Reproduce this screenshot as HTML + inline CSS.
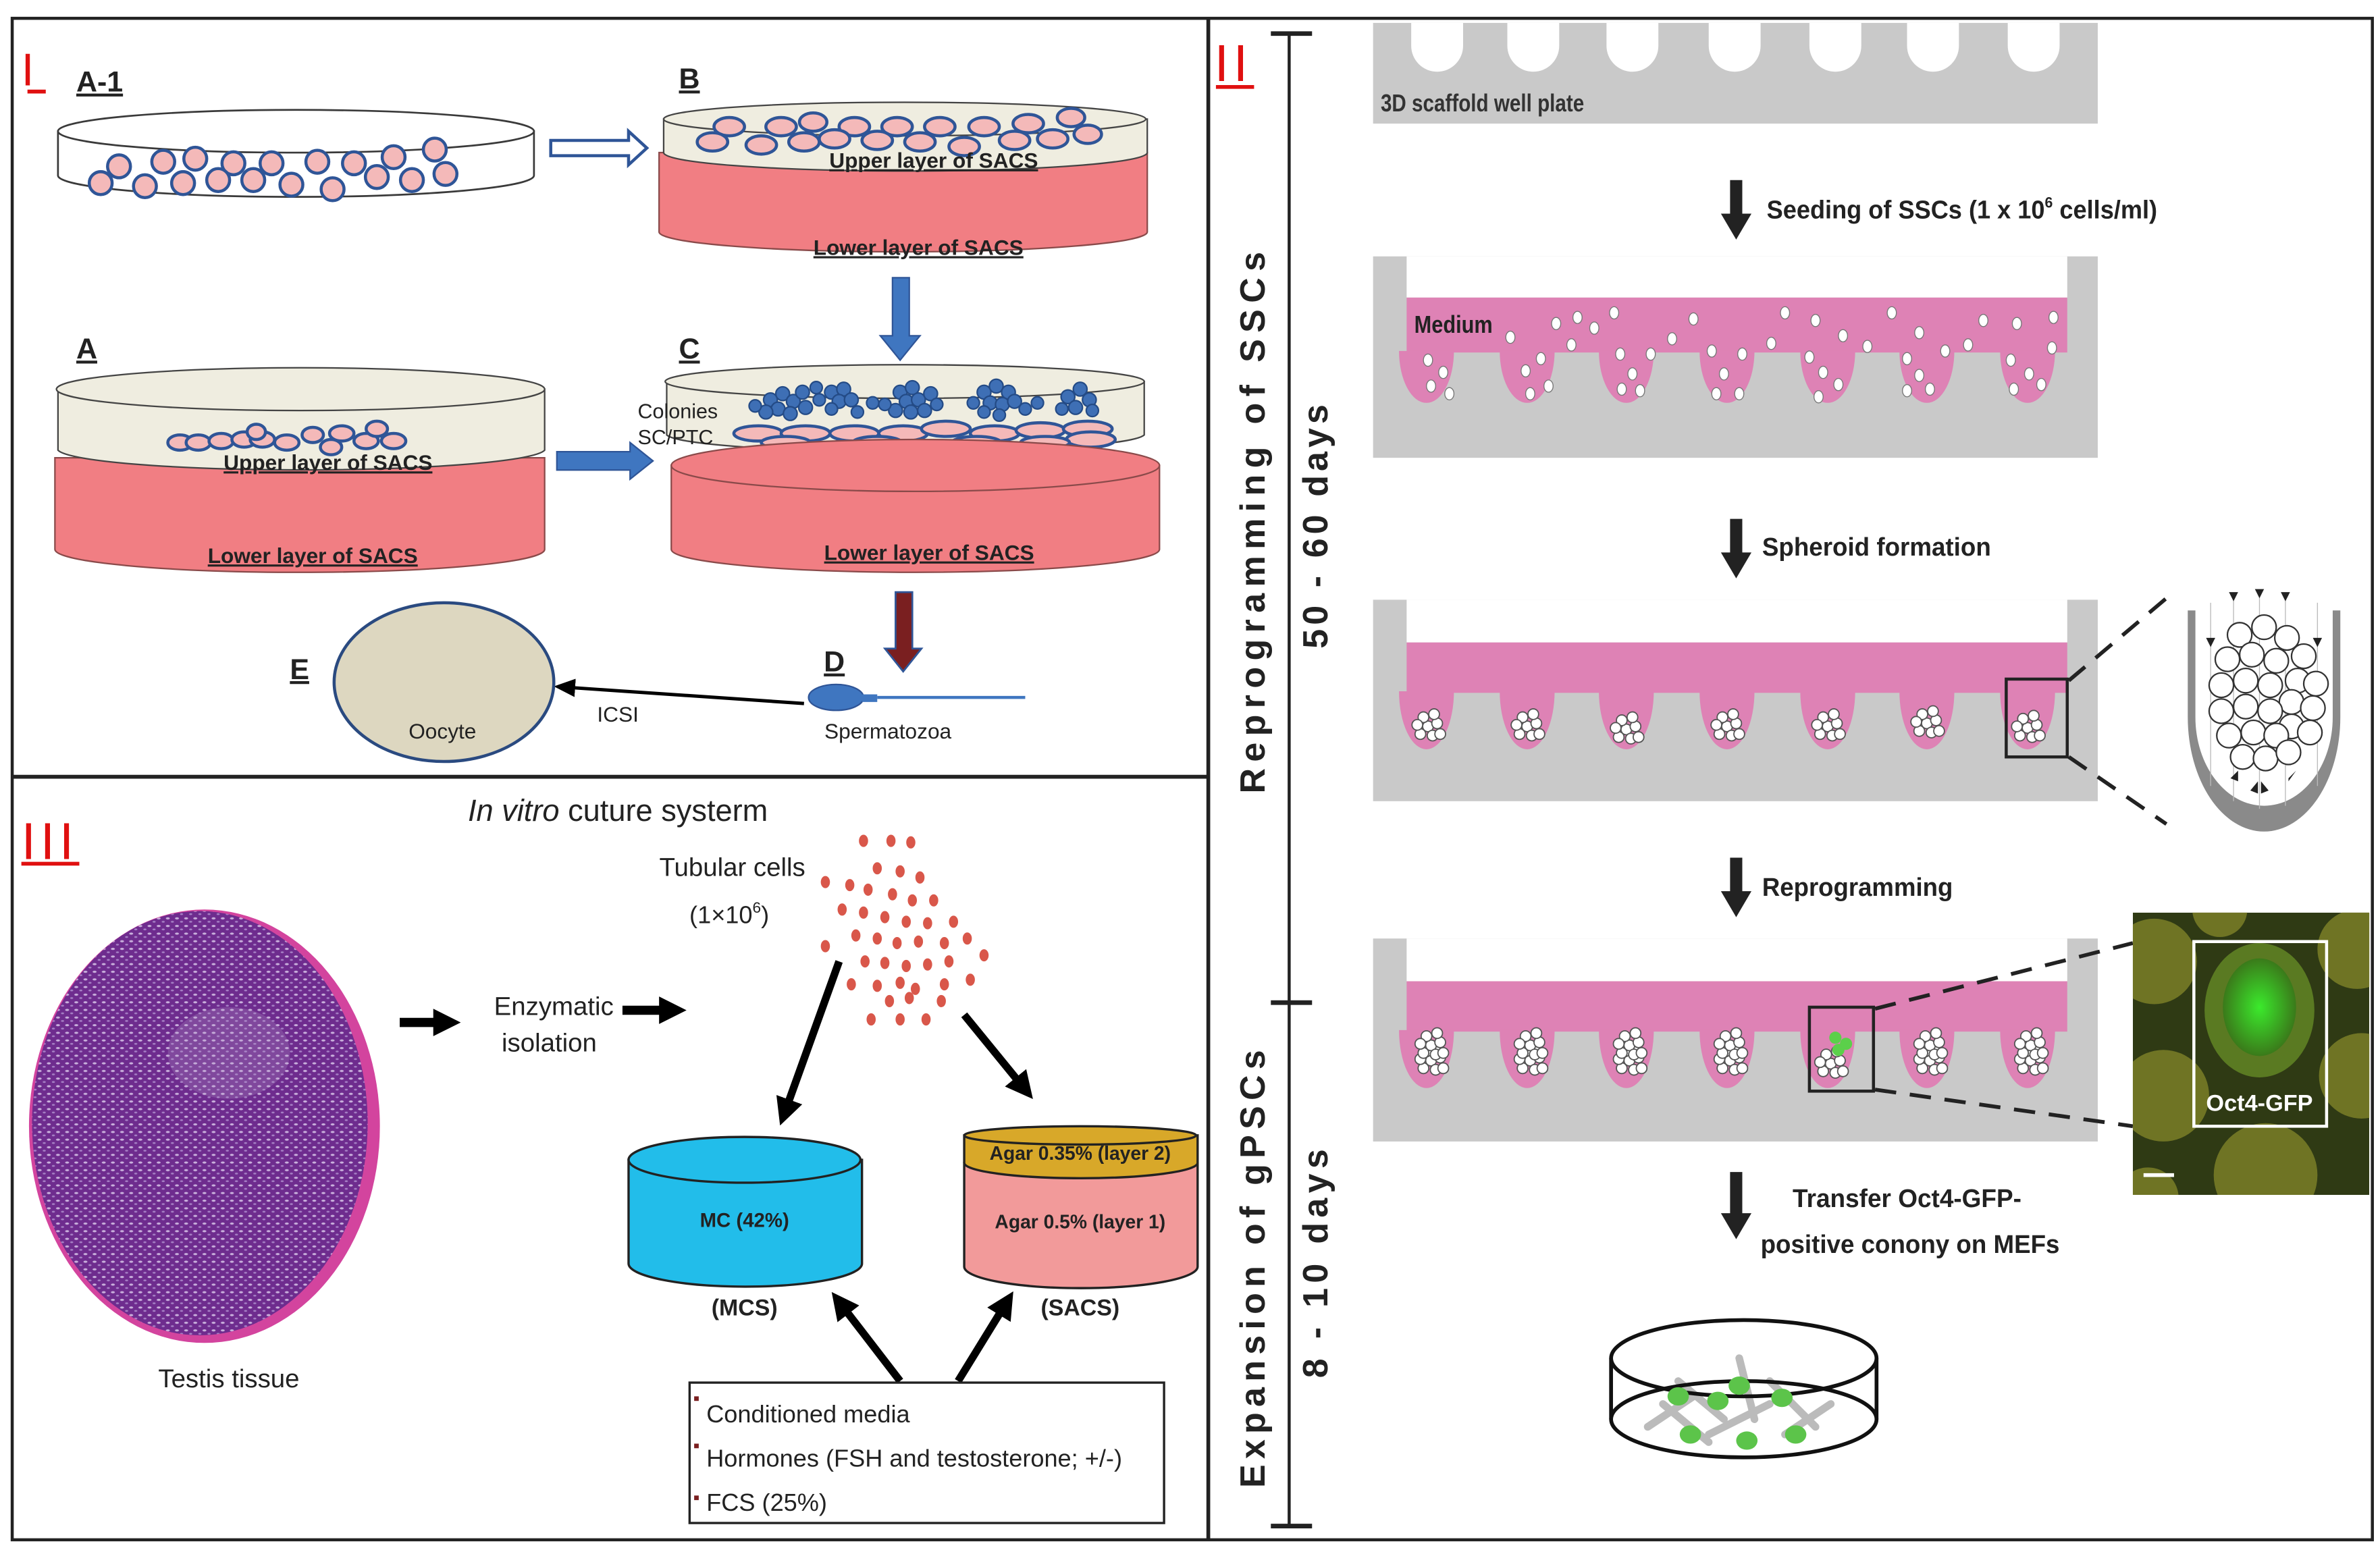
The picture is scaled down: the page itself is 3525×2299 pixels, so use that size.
<!DOCTYPE html>
<html><head><meta charset="utf-8"><style>
html,body{margin:0;padding:0;background:#fff;}
svg{display:block;}
text{font-family:"Liberation Sans",sans-serif;}
.c1{fill:#f4b9b9;stroke:#2f5597;stroke-width:2;}
.bc{fill:#3e6fb5;stroke:#244b86;stroke-width:1;}
.lb{font-weight:bold;font-size:14px;text-decoration:underline;fill:#222;}
.big{font-weight:bold;font-size:19px;text-decoration:underline;fill:#222;}
.p2{font-weight:bold;font-size:17px;fill:#222;}
.tc{fill:#d9574a;}
.wc{fill:#fff;stroke:#555;stroke-width:0.8;}
</style></head><body>
<svg width="3525" height="2299" viewBox="0 0 1560 1017" preserveAspectRatio="none" xmlns="http://www.w3.org/2000/svg">
<defs>
<pattern id="tis" width="6" height="5" patternUnits="userSpaceOnUse">
<rect width="6" height="5" fill="#6e2c8e"/>
<ellipse cx="2" cy="1.8" rx="1.3" ry="0.7" fill="#c9b0dc"/>
<ellipse cx="5" cy="4" rx="1" ry="0.6" fill="#a57fc4"/>
</pattern>
<radialGradient id="gfp" cx="0.5" cy="0.5" r="0.5"><stop offset="0" stop-color="#3bea2c"/><stop offset="1" stop-color="#3a7a1a"/></radialGradient>
<marker id="ah" markerWidth="14" markerHeight="12" refX="11" refY="6" orient="auto" markerUnits="userSpaceOnUse"><path d="M0,0 L14,6 L0,12 z" fill="#000"/></marker>
<marker id="ahb" markerWidth="18" markerHeight="18" refX="10" refY="9" orient="auto" markerUnits="userSpaceOnUse"><path d="M0,0 L18,9 L0,18 z" fill="#000"/></marker>
<clipPath id="ph"><rect x="1398" y="598" width="155" height="185"/></clipPath>
<g id="sph" class="wc"><circle cx="0" cy="0" r="3.5"/><circle cx="6" cy="-2" r="3.5"/><circle cx="-5" cy="5" r="3.5"/><circle cx="3" cy="6" r="3.5"/><circle cx="8" cy="5" r="3.5"/><circle cx="-3" cy="-6" r="3.5"/><circle cx="4" cy="-8" r="3.5"/><circle cx="-7" cy="-1" r="3.5"/></g>
</defs>
<rect x="0" y="0" width="1560" height="1017" fill="#fff"/>
<rect x="8" y="12" width="1547" height="997" fill="none" stroke="#222" stroke-width="2"/>
<line x1="792" y1="12" x2="792" y2="1009" stroke="#222" stroke-width="2.5"/>
<line x1="8" y1="509" x2="792" y2="509" stroke="#222" stroke-width="2.5"/>

<!-- ===== PANEL I ===== -->
<text x="14" y="56" font-size="30" fill="#e01010">I</text>
<line x1="18" y1="60" x2="30" y2="60" stroke="#e01010" stroke-width="2.5"/>
<text x="50" y="60" class="big">A-1</text>
<text x="445" y="58" class="big">B</text>
<text x="50" y="235" class="big">A</text>
<text x="445" y="235" class="big">C</text>
<text x="540" y="440" class="big">D</text>
<text x="190" y="445" class="big">E</text>

<path d="M38,86 L38,115 A156,14 0 0 0 350,115 L350,86 Z" fill="#fff" stroke="#3a3a3a" stroke-width="1.2"/>
<ellipse cx="194" cy="86" rx="156" ry="14" fill="#fff" stroke="#3a3a3a" stroke-width="1.2"/>
<g class="c1">
<circle cx="78" cy="109" r="7.5"/><circle cx="107" cy="106" r="7.5"/><circle cx="128" cy="104" r="7.5"/><circle cx="153" cy="107" r="7.5"/><circle cx="178" cy="107" r="7.5"/><circle cx="208" cy="106" r="7.5"/><circle cx="232" cy="107" r="7.5"/><circle cx="258" cy="103" r="7.5"/><circle cx="285" cy="98" r="7.5"/>
<circle cx="66" cy="120" r="7.5"/><circle cx="95" cy="122" r="7.5"/><circle cx="120" cy="120" r="7.5"/><circle cx="143" cy="118" r="7.5"/><circle cx="166" cy="118" r="7.5"/><circle cx="191" cy="121" r="7.5"/><circle cx="218" cy="124" r="7.5"/><circle cx="247" cy="116" r="7.5"/><circle cx="270" cy="118" r="7.5"/><circle cx="292" cy="114" r="7.5"/>
</g>
<path d="M361,92 L412,92 L412,86 L424,97 L412,108 L412,102 L361,102 Z" fill="#fff" stroke="#2f5597" stroke-width="2"/>

<path d="M432,100 L432,152 A160,13 0 0 0 752,152 L752,100 Z" fill="#f17e83" stroke="#8a4a4a" stroke-width="1"/>
<path d="M435,78 L435,100 A158,12 0 0 0 752,100 L752,78 Z" fill="#efede0" stroke="#444" stroke-width="1"/>
<ellipse cx="593" cy="78" rx="158" ry="11" fill="#efede0" stroke="#444" stroke-width="1"/>
<g class="c1">
<ellipse cx="478" cy="83" rx="10" ry="6"/><ellipse cx="512" cy="83" rx="10" ry="6"/><ellipse cx="533" cy="80" rx="9" ry="6"/><ellipse cx="560" cy="83" rx="10" ry="6"/><ellipse cx="588" cy="83" rx="10" ry="6"/><ellipse cx="616" cy="83" rx="10" ry="6"/><ellipse cx="645" cy="83" rx="10" ry="6"/><ellipse cx="674" cy="81" rx="10" ry="6"/><ellipse cx="702" cy="77" rx="9" ry="6"/>
<ellipse cx="467" cy="93" rx="10" ry="6"/><ellipse cx="499" cy="95" rx="10" ry="6"/><ellipse cx="527" cy="93" rx="10" ry="6"/><ellipse cx="547" cy="91" rx="10" ry="6"/><ellipse cx="575" cy="92" rx="10" ry="6"/><ellipse cx="603" cy="93" rx="10" ry="6"/><ellipse cx="632" cy="96" rx="10" ry="6"/><ellipse cx="665" cy="92" rx="10" ry="6"/><ellipse cx="690" cy="91" rx="10" ry="6"/><ellipse cx="713" cy="88" rx="9" ry="6"/>
</g>
<text x="612" y="110" class="lb" text-anchor="middle">Upper layer of SACS</text>
<text x="602" y="167" class="lb" text-anchor="middle">Lower layer of SACS</text>
<path d="M585,182 L596,182 L596,220 L603,220 L590,236 L577,220 L585,220 Z" fill="#3f76c0" stroke="#2f5597" stroke-width="1"/>

<path d="M36,300 L36,360 A160,15 0 0 0 357,360 L357,300 Z" fill="#f17e83" stroke="#8a4a4a" stroke-width="1"/>
<path d="M38,255 L38,295 A160,14 0 0 0 357,295 L357,255 Z" fill="#efede0" stroke="#444" stroke-width="1"/>
<ellipse cx="197" cy="255" rx="160" ry="14" fill="#efede0" stroke="#444" stroke-width="1"/>
<g class="c1">
<ellipse cx="118" cy="290" rx="8" ry="5"/><ellipse cx="130" cy="290" rx="8" ry="5"/><ellipse cx="145" cy="289" rx="8" ry="5"/><ellipse cx="160" cy="288" rx="8" ry="5"/><ellipse cx="172" cy="288" rx="8" ry="5"/><ellipse cx="168" cy="283" rx="6" ry="5"/><ellipse cx="188" cy="290" rx="8" ry="5"/><ellipse cx="205" cy="285" rx="7" ry="5"/><ellipse cx="217" cy="293" rx="7" ry="5"/><ellipse cx="224" cy="284" rx="8" ry="5"/><ellipse cx="240" cy="289" rx="8" ry="5"/><ellipse cx="247" cy="281" rx="7" ry="5"/><ellipse cx="258" cy="289" rx="8" ry="5"/>
</g>
<text x="215" y="308" class="lb" text-anchor="middle">Upper layer of SACS</text>
<text x="205" y="369" class="lb" text-anchor="middle">Lower layer of SACS</text>
<path d="M365,296 L413,296 L413,290 L428,302 L413,314 L413,308 L365,308 Z" fill="#3f76c0" stroke="#2f5597" stroke-width="1"/>

<path d="M440,305 L440,360 A160,15 0 0 0 760,360 L760,305 Z" fill="#f17e83" stroke="#8a4a4a" stroke-width="1"/>
<path d="M437,250 L437,285 A157,12 0 0 0 750,285 L750,250 Z" fill="#efede0" stroke="#444" stroke-width="1"/>
<ellipse cx="593" cy="250" rx="157" ry="11" fill="#efede0" stroke="#444" stroke-width="1"/>
<g class="c1">
<ellipse cx="497" cy="284" rx="16" ry="5"/><ellipse cx="528" cy="284" rx="16" ry="5"/><ellipse cx="560" cy="284" rx="16" ry="5"/><ellipse cx="592" cy="284" rx="16" ry="5"/><ellipse cx="620" cy="281" rx="16" ry="5"/><ellipse cx="652" cy="284" rx="16" ry="5"/><ellipse cx="682" cy="282" rx="16" ry="5"/><ellipse cx="713" cy="281" rx="16" ry="5"/><ellipse cx="715" cy="288" rx="16" ry="5"/><ellipse cx="515" cy="290" rx="16" ry="4"/><ellipse cx="575" cy="290" rx="16" ry="4"/><ellipse cx="640" cy="290" rx="16" ry="4"/><ellipse cx="685" cy="290" rx="16" ry="4"/>
</g>
<ellipse cx="600" cy="305" rx="160" ry="17" fill="#f17e83" stroke="#8a4a4a" stroke-width="1"/>
<g class="bc">
<circle cx="505" cy="262" r="4.5"/><circle cx="513" cy="258" r="4.5"/><circle cx="520" cy="263" r="4.5"/><circle cx="510" cy="268" r="4.5"/><circle cx="502" cy="270" r="4.5"/><circle cx="518" cy="271" r="4.5"/><circle cx="526" cy="257" r="4.5"/><circle cx="528" cy="267" r="4.5"/><circle cx="535" cy="254" r="4"/><circle cx="495" cy="266" r="4"/><circle cx="537" cy="262" r="4"/>
<circle cx="545" cy="257" r="4.5"/><circle cx="553" cy="255" r="4.5"/><circle cx="550" cy="263" r="4.5"/><circle cx="558" cy="262" r="4.5"/><circle cx="545" cy="268" r="4"/><circle cx="562" cy="270" r="4"/><circle cx="572" cy="264" r="4"/>
<circle cx="590" cy="257" r="4.5"/><circle cx="598" cy="254" r="4.5"/><circle cx="594" cy="263" r="4.5"/><circle cx="602" cy="262" r="4.5"/><circle cx="587" cy="269" r="4.5"/><circle cx="597" cy="270" r="4.5"/><circle cx="606" cy="269" r="4.5"/><circle cx="610" cy="258" r="4.5"/><circle cx="614" cy="265" r="4"/><circle cx="580" cy="265" r="4"/>
<circle cx="645" cy="257" r="4.5"/><circle cx="653" cy="253" r="4.5"/><circle cx="661" cy="257" r="4.5"/><circle cx="649" cy="264" r="4.5"/><circle cx="657" cy="265" r="4.5"/><circle cx="665" cy="263" r="4.5"/><circle cx="645" cy="270" r="4"/><circle cx="655" cy="272" r="4"/><circle cx="638" cy="264" r="4"/><circle cx="672" cy="268" r="4"/><circle cx="680" cy="264" r="4"/>
<circle cx="700" cy="260" r="4.5"/><circle cx="708" cy="255" r="4.5"/><circle cx="714" cy="262" r="4.5"/><circle cx="705" cy="267" r="4.5"/><circle cx="716" cy="269" r="4"/><circle cx="696" cy="268" r="4"/>
</g>
<text x="418" y="274" font-size="13.5" fill="#222">Colonies</text>
<text x="418" y="291" font-size="13.5" fill="#222">SC/PTC</text>
<text x="609" y="367" class="lb" text-anchor="middle">Lower layer of SACS</text>
<path d="M587,388 L598,388 L598,425 L604,425 L592,440 L580,425 L587,425 Z" fill="#7a1f20" stroke="#2f5597" stroke-width="1.2"/>
<ellipse cx="548" cy="457" rx="18" ry="8.5" fill="#3f76c0" stroke="#2f5597" stroke-width="1"/>
<rect x="565" y="455" width="10" height="5" fill="#3f76c0"/>
<line x1="575" y1="457" x2="672" y2="457" stroke="#3f76c0" stroke-width="2"/>
<text x="582" y="484" font-size="14" fill="#222" text-anchor="middle">Spermatozoa</text>
<line x1="527" y1="461" x2="366" y2="450" stroke="#000" stroke-width="2.2" marker-end="url(#ah)"/>
<text x="405" y="473" font-size="14" fill="#222" text-anchor="middle">ICSI</text>
<ellipse cx="291" cy="447" rx="72" ry="52" fill="#ddd7c0" stroke="#2a4a80" stroke-width="2"/>
<text x="290" y="484" font-size="14" fill="#222" text-anchor="middle">Oocyte</text>

<!-- ===== PANEL III ===== -->
<text x="14" y="563" font-size="34" fill="#e01010" letter-spacing="3">III</text>
<line x1="14" y1="566" x2="52" y2="566" stroke="#e01010" stroke-width="2.5"/>
<text x="405" y="538" font-size="20" fill="#222" text-anchor="middle"><tspan font-style="italic">In vitro</tspan> cuture systerm</text>
<ellipse cx="134" cy="738" rx="115" ry="142" fill="#d3449e"/>
<ellipse cx="131" cy="736" rx="110" ry="139" fill="url(#tis)"/>
<ellipse cx="150" cy="690" rx="40" ry="30" fill="#b69acb" opacity="0.25"/>
<text x="150" y="909" font-size="17" fill="#222" text-anchor="middle">Testis tissue</text>
<line x1="262" y1="670" x2="294" y2="670" stroke="#000" stroke-width="6" marker-end="url(#ahb)"/>
<text x="363" y="665" font-size="17" fill="#222" text-anchor="middle">Enzymatic</text>
<text x="360" y="689" font-size="17" fill="#222" text-anchor="middle">isolation</text>
<line x1="408" y1="662" x2="442" y2="662" stroke="#000" stroke-width="6" marker-end="url(#ahb)"/>
<text x="480" y="574" font-size="17" fill="#222" text-anchor="middle">Tubular cells</text>
<text x="478" y="605" font-size="16" fill="#222" text-anchor="middle">(1×10<tspan font-size="10" dy="-7">6</tspan><tspan dy="7">)</tspan></text>
<g class="tc">
<ellipse cx="566" cy="551" rx="3" ry="4"/><ellipse cx="584" cy="551" rx="3" ry="4"/><ellipse cx="597" cy="552" rx="3" ry="4"/>
<ellipse cx="575" cy="569" rx="3" ry="4"/><ellipse cx="590" cy="571" rx="3" ry="4"/><ellipse cx="603" cy="575" rx="3" ry="4"/><ellipse cx="541" cy="578" rx="3" ry="4"/>
<ellipse cx="557" cy="580" rx="3" ry="4"/><ellipse cx="569" cy="583" rx="3" ry="4"/><ellipse cx="585" cy="586" rx="3" ry="4"/><ellipse cx="598" cy="590" rx="3" ry="4"/><ellipse cx="612" cy="590" rx="3" ry="4"/>
<ellipse cx="552" cy="596" rx="3" ry="4"/><ellipse cx="566" cy="598" rx="3" ry="4"/><ellipse cx="580" cy="601" rx="3" ry="4"/><ellipse cx="594" cy="604" rx="3" ry="4"/><ellipse cx="608" cy="605" rx="3" ry="4"/><ellipse cx="625" cy="604" rx="3" ry="4"/>
<ellipse cx="561" cy="613" rx="3" ry="4"/><ellipse cx="575" cy="615" rx="3" ry="4"/><ellipse cx="588" cy="618" rx="3" ry="4"/><ellipse cx="602" cy="617" rx="3" ry="4"/><ellipse cx="619" cy="618" rx="3" ry="4"/><ellipse cx="634" cy="615" rx="3" ry="4"/><ellipse cx="541" cy="620" rx="3" ry="4"/>
<ellipse cx="567" cy="630" rx="3" ry="4"/><ellipse cx="580" cy="631" rx="3" ry="4"/><ellipse cx="594" cy="633" rx="3" ry="4"/><ellipse cx="608" cy="632" rx="3" ry="4"/><ellipse cx="622" cy="630" rx="3" ry="4"/><ellipse cx="645" cy="626" rx="3" ry="4"/>
<ellipse cx="558" cy="645" rx="3" ry="4"/><ellipse cx="575" cy="646" rx="3" ry="4"/><ellipse cx="590" cy="644" rx="3" ry="4"/><ellipse cx="600" cy="648" rx="3" ry="4"/><ellipse cx="619" cy="645" rx="3" ry="4"/><ellipse cx="636" cy="642" rx="3" ry="4"/>
<ellipse cx="583" cy="656" rx="3" ry="4"/><ellipse cx="596" cy="654" rx="3" ry="4"/><ellipse cx="617" cy="656" rx="3" ry="4"/>
<ellipse cx="571" cy="668" rx="3" ry="4"/><ellipse cx="590" cy="668" rx="3" ry="4"/><ellipse cx="607" cy="668" rx="3" ry="4"/>
</g>
<line x1="550" y1="630" x2="514" y2="730" stroke="#000" stroke-width="5" marker-end="url(#ahb)"/>
<line x1="632" y1="665" x2="672" y2="714" stroke="#000" stroke-width="5" marker-end="url(#ahb)"/>
<path d="M412,760 L412,828 A76,15 0 0 0 565,828 L565,760 Z" fill="#22bdea" stroke="#222" stroke-width="1.5"/>
<ellipse cx="488" cy="760" rx="76" ry="15" fill="#22bdea" stroke="#222" stroke-width="1.5"/>
<text x="488" y="804" font-size="13" font-weight="bold" fill="#222" text-anchor="middle">MC (42%)</text>
<text x="488" y="862" font-size="15" font-weight="bold" fill="#222" text-anchor="middle">(MCS)</text>
<path d="M632,762 L632,830 A76,14 0 0 0 785,830 L785,762 Z" fill="#f29a9a" stroke="#222" stroke-width="1.5"/>
<path d="M632,744 L632,762 A76,10 0 0 0 785,762 L785,744 Z" fill="#d8a829" stroke="#222" stroke-width="1.5"/>
<ellipse cx="708" cy="744" rx="76" ry="6" fill="#d8a829" stroke="#222" stroke-width="1.5"/>
<text x="708" y="760" font-size="12.5" font-weight="bold" fill="#222" text-anchor="middle">Agar 0.35% (layer 2)</text>
<text x="708" y="805" font-size="12.5" font-weight="bold" fill="#222" text-anchor="middle">Agar 0.5% (layer 1)</text>
<text x="708" y="862" font-size="15" font-weight="bold" fill="#222" text-anchor="middle">(SACS)</text>
<line x1="590" y1="905" x2="550" y2="853" stroke="#000" stroke-width="5" marker-end="url(#ahb)"/>
<line x1="628" y1="905" x2="660" y2="853" stroke="#000" stroke-width="5" marker-end="url(#ahb)"/>
<rect x="452" y="906" width="311" height="92" fill="#fff" stroke="#222" stroke-width="1.5"/>
<g font-size="16" fill="#222">
<rect x="455" y="915" width="3" height="3" fill="#7a1f20"/><text x="463" y="932">Conditioned media</text>
<rect x="455" y="946" width="3" height="3" fill="#7a1f20"/><text x="463" y="961">Hormones (FSH and testosterone; +/-)</text>
<rect x="455" y="980" width="3" height="3" fill="#7a1f20"/><text x="463" y="990">FCS (25%)</text>
</g>

<!-- ===== PANEL II ===== -->
<text x="796" y="53" font-size="34" fill="#e01010" letter-spacing="3">II</text>
<line x1="797" y1="57" x2="822" y2="57" stroke="#e01010" stroke-width="2.5"/>
<line x1="845" y1="22" x2="845" y2="1000" stroke="#222" stroke-width="2"/>
<line x1="833" y1="22" x2="860" y2="22" stroke="#222" stroke-width="3"/>
<line x1="833" y1="657" x2="860" y2="657" stroke="#222" stroke-width="3"/>
<line x1="833" y1="1000" x2="860" y2="1000" stroke="#222" stroke-width="3"/>
<text transform="translate(829,520) rotate(-90)" font-size="23" font-weight="bold" fill="#222" textLength="355" lengthAdjust="spacing">Reprogramming of SSCs</text>
<text transform="translate(870,425) rotate(-90)" font-size="23" font-weight="bold" fill="#222" textLength="160" lengthAdjust="spacing">50 - 60 days</text>
<text transform="translate(829,975) rotate(-90)" font-size="23" font-weight="bold" fill="#222" textLength="287" lengthAdjust="spacing">Expansion of gPSCs</text>
<text transform="translate(870,903) rotate(-90)" font-size="23" font-weight="bold" fill="#222" textLength="150" lengthAdjust="spacing">8 - 10 days</text>

<rect x="900" y="15" width="475" height="66" fill="#c9c9c9"/>
<g fill="#fff">
<path d="M925,15 L925,30 A17,17 0 0 0 959,30 L959,15 Z"/><path d="M988,15 L988,30 A17,17 0 0 0 1022,30 L1022,15 Z"/><path d="M1053,15 L1053,30 A17,17 0 0 0 1087,30 L1087,15 Z"/><path d="M1120,15 L1120,30 A17,17 0 0 0 1154,30 L1154,15 Z"/><path d="M1186,15 L1186,30 A17,17 0 0 0 1220,30 L1220,15 Z"/><path d="M1250,15 L1250,30 A17,17 0 0 0 1284,30 L1284,15 Z"/><path d="M1316,15 L1316,30 A17,17 0 0 0 1350,30 L1350,15 Z"/>
</g>
<text x="905" y="73" font-size="16" font-weight="bold" fill="#333" transform="translate(905,73) scale(0.82,1) translate(-905,-73)">3D scaffold well plate</text>

<g fill="#222">
<path d="M1134,118 L1142,118 L1142,140 L1148,140 L1138,157 L1128,140 L1134,140 Z"/>
<path d="M1134,340 L1142,340 L1142,362 L1148,362 L1138,379 L1128,362 L1134,362 Z"/>
<path d="M1134,562 L1142,562 L1142,584 L1148,584 L1138,601 L1128,584 L1134,584 Z"/>
<path d="M1134,768 L1142,768 L1142,795 L1148,795 L1138,812 L1128,795 L1134,795 Z"/>
</g>
<text x="1158" y="143" class="p2" textLength="256" lengthAdjust="spacingAndGlyphs">Seeding of SSCs (1 x 10<tspan font-size="10" dy="-7">6</tspan><tspan dy="7"> cells/ml)</tspan></text>
<text x="1155" y="364" class="p2" textLength="150" lengthAdjust="spacingAndGlyphs">Spheroid formation</text>
<text x="1155" y="587" class="p2" textLength="125" lengthAdjust="spacingAndGlyphs">Reprogramming</text>
<text x="1250" y="791" class="p2" text-anchor="middle" textLength="150" lengthAdjust="spacingAndGlyphs">Transfer Oct4-GFP-</text>
<text x="1252" y="821" class="p2" text-anchor="middle" textLength="196" lengthAdjust="spacingAndGlyphs">positive conony on MEFs</text>

<rect x="900" y="168" width="475" height="132" fill="#c9c9c9"/>
<rect x="922" y="168" width="433" height="27" fill="#fff"/>
<g fill="#de82b5">
<rect x="922" y="195" width="433" height="36"/>
<path d="M917,230 A18,34 0 0 0 953,230 Z"/><path d="M983,230 A18,34 0 0 0 1019,230 Z"/><path d="M1048,230 A18,34 0 0 0 1084,230 Z"/><path d="M1114,230 A18,34 0 0 0 1150,230 Z"/><path d="M1180,230 A18,34 0 0 0 1216,230 Z"/><path d="M1245,230 A18,34 0 0 0 1281,230 Z"/><path d="M1311,230 A18,34 0 0 0 1347,230 Z"/>
</g>
<text x="927" y="218" font-size="16" font-weight="bold" fill="#222" transform="translate(927,218) scale(0.85,1) translate(-927,-218)">Medium</text>
<g fill="#fff" stroke="#777" stroke-width="0.6">
<ellipse cx="936" cy="236" rx="3" ry="4"/><ellipse cx="946" cy="244" rx="3" ry="4"/><ellipse cx="938" cy="253" rx="3" ry="4"/><ellipse cx="950" cy="258" rx="3" ry="4"/>
<ellipse cx="990" cy="221" rx="3" ry="4"/><ellipse cx="1000" cy="243" rx="3" ry="4"/><ellipse cx="1010" cy="235" rx="3" ry="4"/><ellipse cx="1003" cy="258" rx="3" ry="4"/><ellipse cx="1015" cy="253" rx="3" ry="4"/><ellipse cx="1020" cy="212" rx="3" ry="4"/><ellipse cx="1034" cy="208" rx="3" ry="4"/><ellipse cx="1030" cy="226" rx="3" ry="4"/>
<ellipse cx="1062" cy="232" rx="3" ry="4"/><ellipse cx="1070" cy="245" rx="3" ry="4"/><ellipse cx="1063" cy="255" rx="3" ry="4"/><ellipse cx="1075" cy="256" rx="3" ry="4"/><ellipse cx="1045" cy="215" rx="3" ry="4"/><ellipse cx="1058" cy="205" rx="3" ry="4"/><ellipse cx="1082" cy="232" rx="3" ry="4"/>
<ellipse cx="1096" cy="222" rx="3" ry="4"/><ellipse cx="1122" cy="230" rx="3" ry="4"/><ellipse cx="1130" cy="245" rx="3" ry="4"/><ellipse cx="1125" cy="258" rx="3" ry="4"/><ellipse cx="1140" cy="258" rx="3" ry="4"/><ellipse cx="1110" cy="209" rx="3" ry="4"/><ellipse cx="1142" cy="232" rx="3" ry="4"/>
<ellipse cx="1161" cy="225" rx="3" ry="4"/><ellipse cx="1186" cy="234" rx="3" ry="4"/><ellipse cx="1195" cy="244" rx="3" ry="4"/><ellipse cx="1192" cy="260" rx="3" ry="4"/><ellipse cx="1205" cy="252" rx="3" ry="4"/><ellipse cx="1170" cy="205" rx="3" ry="4"/><ellipse cx="1190" cy="210" rx="3" ry="4"/><ellipse cx="1208" cy="220" rx="3" ry="4"/>
<ellipse cx="1224" cy="227" rx="3" ry="4"/><ellipse cx="1250" cy="235" rx="3" ry="4"/><ellipse cx="1258" cy="246" rx="3" ry="4"/><ellipse cx="1250" cy="256" rx="3" ry="4"/><ellipse cx="1265" cy="255" rx="3" ry="4"/><ellipse cx="1240" cy="205" rx="3" ry="4"/><ellipse cx="1258" cy="218" rx="3" ry="4"/><ellipse cx="1275" cy="230" rx="3" ry="4"/>
<ellipse cx="1290" cy="226" rx="3" ry="4"/><ellipse cx="1318" cy="236" rx="3" ry="4"/><ellipse cx="1330" cy="245" rx="3" ry="4"/><ellipse cx="1320" cy="255" rx="3" ry="4"/><ellipse cx="1338" cy="252" rx="3" ry="4"/><ellipse cx="1300" cy="210" rx="3" ry="4"/><ellipse cx="1322" cy="212" rx="3" ry="4"/><ellipse cx="1346" cy="208" rx="3" ry="4"/><ellipse cx="1345" cy="228" rx="3" ry="4"/>
</g>

<rect x="900" y="393" width="475" height="132" fill="#c9c9c9"/>
<rect x="922" y="393" width="433" height="28" fill="#fff"/>
<g fill="#de82b5">
<rect x="922" y="421" width="433" height="33"/>
<path d="M917,453 A18,38 0 0 0 953,453 Z"/><path d="M983,453 A18,38 0 0 0 1019,453 Z"/><path d="M1048,453 A18,38 0 0 0 1084,453 Z"/><path d="M1114,453 A18,38 0 0 0 1150,453 Z"/><path d="M1180,453 A18,38 0 0 0 1216,453 Z"/><path d="M1245,453 A18,38 0 0 0 1281,453 Z"/><path d="M1311,453 A18,38 0 0 0 1347,453 Z"/>
</g>
<use href="#sph" x="936" y="476"/><use href="#sph" x="1001" y="476"/><use href="#sph" x="1066" y="478"/><use href="#sph" x="1132" y="476"/><use href="#sph" x="1198" y="476"/><use href="#sph" x="1263" y="474"/><use href="#sph" x="1329" y="477"/>
<rect x="1315" y="445" width="40" height="51" fill="none" stroke="#222" stroke-width="2"/>
<line x1="1356" y1="446" x2="1420" y2="392" stroke="#222" stroke-width="2.5" stroke-dasharray="14,9"/>
<line x1="1356" y1="496" x2="1420" y2="540" stroke="#222" stroke-width="2.5" stroke-dasharray="14,9"/>
<path d="M1434,400 L1434,470 A50,75 0 0 0 1534,470 L1534,400 L1529,400 L1529,470 A45,58 0 0 1 1439,470 L1439,400 Z" fill="#8a8a8a"/>
<g stroke="#bbb" stroke-width="0.6">
<line x1="1449" y1="395" x2="1449" y2="515"/><line x1="1464" y1="390" x2="1464" y2="525"/><line x1="1481" y1="388" x2="1481" y2="530"/><line x1="1498" y1="390" x2="1498" y2="528"/><line x1="1519" y1="395" x2="1519" y2="515"/>
</g>
<g fill="#fff" stroke="#333" stroke-width="1">
<circle cx="1468" cy="416" r="8"/><circle cx="1484" cy="411" r="8"/><circle cx="1499" cy="418" r="8"/><circle cx="1510" cy="430" r="8"/>
<circle cx="1460" cy="432" r="8"/><circle cx="1476" cy="429" r="8"/><circle cx="1492" cy="433" r="8"/><circle cx="1506" cy="446" r="8"/><circle cx="1518" cy="448" r="8"/>
<circle cx="1456" cy="449" r="8"/><circle cx="1472" cy="446" r="8"/><circle cx="1488" cy="449" r="8"/><circle cx="1502" cy="460" r="8"/><circle cx="1516" cy="464" r="8"/>
<circle cx="1456" cy="466" r="8"/><circle cx="1472" cy="463" r="8"/><circle cx="1488" cy="466" r="8"/><circle cx="1502" cy="476" r="8"/><circle cx="1514" cy="480" r="8"/>
<circle cx="1461" cy="482" r="8"/><circle cx="1477" cy="480" r="8"/><circle cx="1492" cy="482" r="8"/><circle cx="1470" cy="496" r="8"/><circle cx="1485" cy="497" r="8"/><circle cx="1500" cy="493" r="8"/>
</g>
<g fill="#222">
<path d="M1461,388 L1467,388 L1464,394Z"/><path d="M1478,386 L1484,386 L1481,392Z"/><path d="M1495,388 L1501,388 L1498,394Z"/><path d="M1446,418 L1452,418 L1449,424Z"/><path d="M1516,418 L1522,418 L1519,424Z"/><path d="M1462,510 L1467,505 L1467,512Z"/><path d="M1500,510 L1505,505 L1500,512Z"/><path d="M1475,518 L1480,512 L1480,520Z"/><path d="M1487,518 L1482,512 L1482,520Z"/>
</g>

<rect x="900" y="615" width="475" height="133" fill="#c9c9c9"/>
<rect x="922" y="615" width="433" height="28" fill="#fff"/>
<g fill="#de82b5">
<rect x="922" y="643" width="433" height="33"/>
<path d="M917,675 A18,38 0 0 0 953,675 Z"/><path d="M983,675 A18,38 0 0 0 1019,675 Z"/><path d="M1048,675 A18,38 0 0 0 1084,675 Z"/><path d="M1114,675 A18,38 0 0 0 1150,675 Z"/><path d="M1180,675 A18,38 0 0 0 1216,675 Z"/><path d="M1245,675 A18,38 0 0 0 1281,675 Z"/><path d="M1311,675 A18,38 0 0 0 1347,675 Z"/>
</g>
<use href="#sph" x="938" y="695"/><use href="#sph" x="938" y="685"/><use href="#sph" x="1003" y="695"/><use href="#sph" x="1003" y="685"/><use href="#sph" x="1068" y="695"/><use href="#sph" x="1068" y="685"/><use href="#sph" x="1134" y="695"/><use href="#sph" x="1134" y="685"/><use href="#sph" x="1200" y="697"/><use href="#sph" x="1265" y="695"/><use href="#sph" x="1265" y="685"/><use href="#sph" x="1331" y="695"/><use href="#sph" x="1331" y="685"/>
<circle cx="1203" cy="680" r="4" fill="#5bd04a"/><circle cx="1210" cy="684" r="4" fill="#5bd04a"/><circle cx="1205" cy="688" r="4" fill="#5bd04a"/>
<rect x="1186" y="660" width="42" height="55" fill="none" stroke="#222" stroke-width="2"/>
<line x1="1229" y1="661" x2="1398" y2="618" stroke="#222" stroke-width="2.5" stroke-dasharray="14,9"/>
<line x1="1229" y1="714" x2="1398" y2="738" stroke="#222" stroke-width="2.5" stroke-dasharray="14,9"/>
<g clip-path="url(#ph)">
<rect x="1398" y="598" width="155" height="185" fill="#2f3a14"/>
<g fill="#6f7424">
<circle cx="1412" cy="630" r="28"/><circle cx="1545" cy="622" r="26"/><circle cx="1418" cy="718" r="30"/><circle cx="1485" cy="770" r="34"/><circle cx="1548" cy="705" r="28"/><circle cx="1455" cy="596" r="18"/><circle cx="1408" cy="785" r="20"/>
</g>
<ellipse cx="1481" cy="662" rx="36" ry="44" fill="#5a7a22"/>
<ellipse cx="1481" cy="660" rx="24" ry="32" fill="url(#gfp)"/>
</g>
<rect x="1438" y="617" width="87" height="121" fill="none" stroke="#fff" stroke-width="2"/>
<text x="1481" y="728" font-size="15" font-weight="bold" fill="#fff" text-anchor="middle" textLength="70" lengthAdjust="spacingAndGlyphs">Oct4-GFP</text>
<line x1="1405" y1="770" x2="1425" y2="770" stroke="#fff" stroke-width="2.5"/>

<g stroke="#bbb" stroke-width="5" stroke-linecap="round">
<path d="M1080,935 L1110,915"/><path d="M1100,905 L1130,930"/><path d="M1140,890 L1150,930"/><path d="M1160,905 L1190,935"/><path d="M1120,940 L1160,920"/><path d="M1170,940 L1200,920"/><path d="M1090,920 L1120,945"/>
</g>
<ellipse cx="1143" cy="930" rx="87" ry="25" fill="none" stroke="#111" stroke-width="2.5"/>
<ellipse cx="1143" cy="890" rx="87" ry="25" fill="none" stroke="#111" stroke-width="2.5"/>
<line x1="1056" y1="890" x2="1056" y2="930" stroke="#111" stroke-width="2.5"/>
<line x1="1230" y1="890" x2="1230" y2="930" stroke="#111" stroke-width="2.5"/>
<g fill="#5cc44a">
<ellipse cx="1100" cy="915" rx="7" ry="6"/><ellipse cx="1126" cy="918" rx="7" ry="6"/><ellipse cx="1140" cy="908" rx="7" ry="6"/><ellipse cx="1168" cy="916" rx="7" ry="6"/><ellipse cx="1108" cy="940" rx="7" ry="6"/><ellipse cx="1145" cy="944" rx="7" ry="6"/><ellipse cx="1177" cy="940" rx="7" ry="6"/>
</g>
</svg>
</body></html>
